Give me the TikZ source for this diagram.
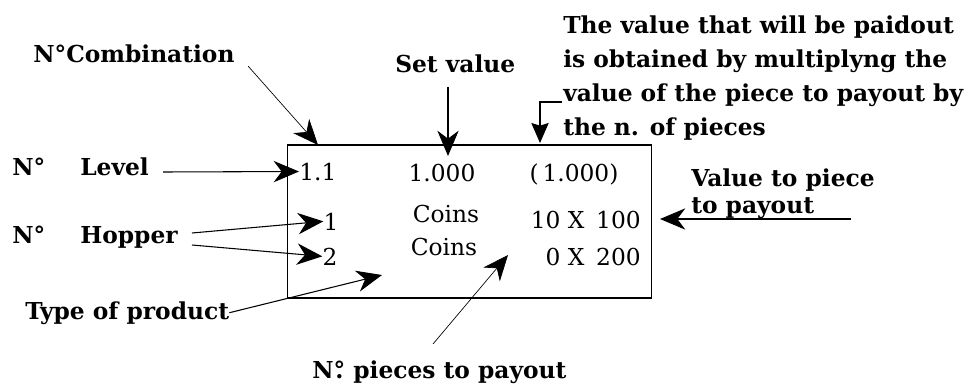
\documentclass[tikz,border=0pt]{standalone}
\usepackage{fontspec}
\setmainfont{DejaVu Serif}
\usetikzlibrary{arrows.meta,positioning}

\begin{document}
\begin{tikzpicture}[x=0.75pt, y=-0.75pt, >={Stealth[length=19pt,width=16pt,inset=6pt]},
  every node/.style={inner sep=0pt, font=\fontsize{17.5}{20}\selectfont},
  lbl/.style={font=\fontsize{17.5}{20}\selectfont\bfseries, anchor=base west},
  val/.style={anchor=base},
  lead/.style={line width=0.8pt},
  thinlead/.style={line width=0.5pt}]
  \useasboundingbox (0,0) rectangle (966,385);
  \node[draw, line width=1.2pt, minimum width=273pt, minimum height=114.75pt] (panel) at (469.5,221.5) {};

  % labels round the panel
  \node[lbl] (comb) at (33,63) {N°Combination};
  \node[lbl] (setv) at (395,73) {Set value};
  \node[lbl, align=left, font=\fontsize{17.5}{25.5}\selectfont\bfseries] (note) at (563,135)
    {The value that will be paidout\\is obtained by multiplyng the\\value of the piece to payout by\\the n. of pieces};
  \node[lbl] (lvlno) at (12,175) {N°};
  \node[lbl] (lvl) at (80,175) {Level};
  \node[lbl] (hopno) at (12,243) {N°};
  \node[lbl] (hop) at (80,243) {Hopper};
  \node[lbl] (type) at (25,319) {Type of product};
  \node[lbl] (pcs) at (312,378) {N\ooalign{°\cr\hidewidth.\hidewidth} pieces to payout};
  \node[lbl, align=left, font=\fontsize{17.5}{20}\selectfont\bfseries] (vpc) at (691,213)
    {Value to piece\\to payout};

  % values in the panel
  \node[anchor=base west] (v11) at (299,180) {1.1};
  \node[val] (vset) at (442,181) {1.000};
  \node[val] (vpay) at (574,181) {(\,1.000)};
  \node[val] (hopA) at (331,230) {1};
  \node[val] (hopB) at (330,265) {2};
  \node[val] (coinA) at (446,222) {Coins};
  \node[val] (coinB) at (444,255) {Coins};
  \node[anchor=base east] (payA) at (641,228) {10 X\enspace 100};
  \node[anchor=base east] (payB) at (641,265) {0 X\enspace 200};

  \coordinate (combstart) at (248,66);
  \coordinate (combtip) at (318,145);
  \coordinate (setvtip) at (448,156);
  \coordinate (notestart) at (562,102);
  \coordinate (notetip) at (540,143);
  \coordinate (lvlstart) at (163,172);
  \coordinate (hopstartA) at (192,233);
  \coordinate (hopstartB) at (192,245);
  \coordinate (typetip) at (382,275);
  \coordinate (pcsstart) at (433,344);
  \coordinate (pcstip) at (508,255);
  \coordinate (vpcstart) at (851,219);
  \coordinate (vpctip) at (660,219);

  \draw[thinlead, ->] (combstart) -- (combtip);
  \draw[lead, ->] ([yshift=-10pt]setv.south -| setvtip) -- (setvtip);
  \draw[lead, -{Stealth[length=15pt,width=13pt,inset=2pt]}] (notestart) -| (notetip);
  \draw[lead, ->] (lvlstart) -- (v11.west);
  \draw[lead, ->] (hopstartA) -- (hopA.west);
  \draw[lead, ->] (hopstartB) -- (hopB.west);
  \draw[lead, ->] (type.east) -- (typetip);
  \draw[thinlead, ->] (pcsstart) -- (pcstip);
  \draw[lead, ->] (vpcstart) -- (vpctip);
\end{tikzpicture}
\end{document}
